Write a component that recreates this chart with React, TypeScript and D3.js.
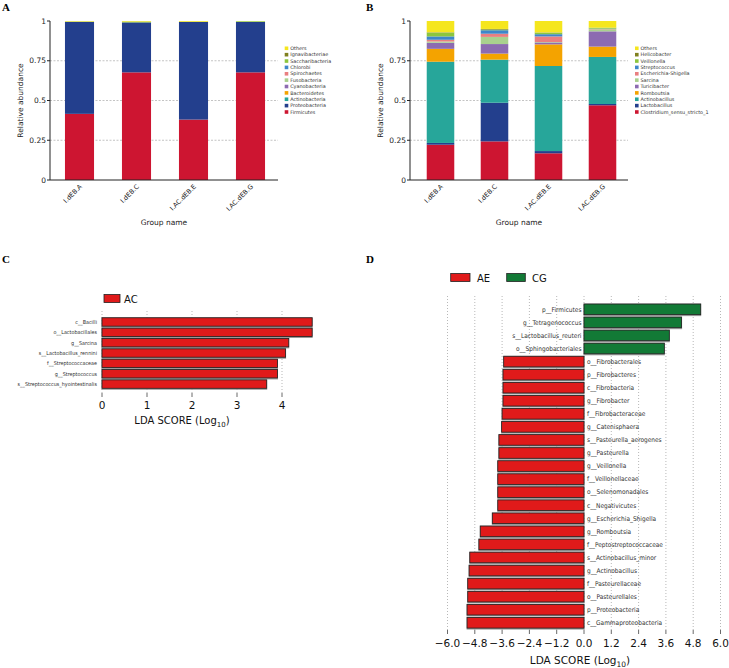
import React from "react";
import * as d3 from "d3";

// ---------- Panel A data ----------
const groups = ["I.dEB.A", "I.dEB.C", "I.AC.dEB.E", "I.AC.dEB.G"];
const phylaNames = ["Firmicutes", "Proteobacteria", "Actinobacteria", "Bacteroidetes", "Cyanobacteria", "Fusobacteria", "Spirochaetes", "Chlorobi", "Saccharibacteria", "Ignavibacteriae", "Others"];
const phylaA = [0.416, 0.578, 0.001, 0.0003, 0.0003, 0, 0, 0, 0.001, 0, 0.0034];
const phylaC = [0.677, 0.314, 0.0003, 0, 0, 0, 0, 0, 0.005, 0, 0.0037];
const phylaE = [0.38, 0.614, 0.0003, 0, 0, 0, 0, 0, 0.001, 0, 0.0047];
const phylaG = [0.677, 0.317, 0.001, 0, 0, 0, 0, 0, 0.004, 0, 0.001];

// ---------- Panel B data ----------
const genusNames = ["Clostridium_sensu_stricto_1", "Lactobacillus", "Actinobacillus", "Romboutsia", "Turicibacter", "Sarcina", "Escherichia-Shigella", "Streptococcus", "Veillonella", "Helicobacter", "Others"];
const genusA = [0.222, 0.011, 0.511, 0.081, 0.038, 0.008, 0.011, 0.021, 0.024, 0.002, 0.071];
const genusC = [0.243, 0.243, 0.271, 0.038, 0.06, 0.045, 0.02, 0.022, 0.004, 0.004, 0.05];
const genusE = [0.168, 0.014, 0.535, 0.136, 0.012, 0.003, 0.035, 0.014, 0.009, 0.002, 0.072];
const genusG = [0.47, 0.008, 0.296, 0.065, 0.096, 0.013, 0.002, 0.002, 0.005, 0.001, 0.042];

const stackColors = ["#CD1531", "#233F8D", "#27A69A", "#F4A300", "#8C6BB1", "#A9D18E", "#E97F80", "#3E86CA", "#8CC63E", "#80801F", "#F5E61E"];
const yTicks = [0, 0.25, 0.5, 0.75, 1];
const yTickLabels = ["0", "0.25", "0.5", "0.75", "1"];

// ---------- Panel C data ----------
const lefseCNames = ["c__Bacilli", "o__Lactobacillales", "g__Sarcina", "s__Lactobacillus_rennini", "f__Streptococcaceae", "g__Streptococcus", "s__Streptococcus_hyointestinalis"];
const lefseCValues = [4.67, 4.67, 4.15, 4.08, 3.9, 3.9, 3.66];
const lefseCTicks = [0, 1, 2, 3, 4];

// ---------- Panel D data ----------
const lefseDNames = ["p__Firmicutes", "g__Tetragenococcus", "s__Lactobacillus_reuteri", "o__Sphingobacteriales", "o__Fibrobacterales", "p__Fibrobacteres", "c__Fibrobacteria", "g__Fibrobacter", "f__Fibrobacteraceae", "g__Catenisphaera", "s__Pasteurella_aerogenes", "g__Pasteurella", "g__Veillonella", "f__Veillonellaceae", "o__Selenomonadales", "c__Negativicutes", "g__Escherichia_Shigella", "g__Romboutsia", "f__Peptostreptococcaceae", "s__Actinobacillus_minor", "g__Actinobacillus", "f__Pasteurellaceae", "o__Pasteurellales", "p__Proteobacteria", "c__Gammaproteobacteria"];
const lefseDValues = [5.13, 4.29, 3.75, 3.53, -3.53, -3.56, -3.56, -3.56, -3.6, -3.62, -3.74, -3.74, -3.79, -3.79, -3.79, -3.79, -4.03, -4.56, -4.62, -5.02, -5.05, -5.11, -5.11, -5.14, -5.14];
const lefseDTicks = [-6, -4.8, -3.6, -2.4, -1.2, 0, 1.2, 2.4, 3.6, 4.8, 6];

const AE_RED = "#E01A1A";
const CG_GREEN = "#127A36";
const SANS = "DejaVu Sans, Verdana, sans-serif";
const COND = "DejaVu Sans Condensed, DejaVu Sans, sans-serif";
const SERIF = "Liberation Serif, Times New Roman, serif";

function StackPanel({ names, rows, left, right, band0, band1, legendX }: any) {
  const top = 21, bottom = 180;
  const y = d3.scaleLinear().domain([0, 1]).range([bottom, top]);
  const x = d3.scaleBand().domain(groups).range([band0, band1]).padding(0);
  const bw = x.step() * 0.51;
  const data = groups.map((g, gi) => {
    const o: any = { group: g };
    names.forEach((n: string, i: number) => (o[n] = rows[gi][i]));
    return o;
  });
  const series = d3.stack().keys(names)(data);
  return (
    <g>
      {yTicks.slice(1, 4).map((t) => (
        <line key={t} x1={left} x2={right} y1={y(t)} y2={y(t)} stroke="#aaa" strokeWidth={0.7} strokeDasharray="2,1.5" />
      ))}
      {series.map((s: any, si: number) => (
        <g key={si} fill={stackColors[si]}>
          {s.map((d: any, di: number) => {
            const h = y(d[0]) - y(d[1]);
            if (h <= 0) return null;
            const cx = (x(groups[di]) as number) + x.step() / 2;
            return <rect key={di} x={cx - bw / 2} y={y(d[1])} width={bw} height={h} />;
          })}
        </g>
      ))}
      <line x1={left} x2={left} y1={top} y2={bottom} stroke="#222" strokeWidth={1} />
      <line x1={left} x2={right} y1={bottom} y2={bottom} stroke="#222" strokeWidth={1} />
      {yTicks.map((t, i) => (
        <g key={t}>
          <line x1={left - 3} x2={left} y1={y(t)} y2={y(t)} stroke="#222" strokeWidth={1} />
          <text x={left - 4} y={y(t)} dy="0.35em" textAnchor="end" fontSize={7.5} fontFamily={SANS} fill="#222">
            {yTickLabels[i]}
          </text>
        </g>
      ))}
      {groups.map((g) => {
        const cx = (x(g) as number) + x.step() / 2;
        return (
          <text key={g} transform={`translate(${cx + 3},${bottom + 7}) rotate(-45)`} textAnchor="end" fontSize={6.5} fontFamily={SANS} fill="#222">
            {g}
          </text>
        );
      })}
      <text x={(left + right) / 2} y={225} textAnchor="middle" fontSize={7.5} fontFamily={SANS} fill="#222">
        Group name
      </text>
      <text transform={`translate(${left - 27},${(top + bottom) / 2}) rotate(-90)`} textAnchor="middle" fontSize={7.5} fontFamily={SANS} fill="#222">
        Relative abundance
      </text>
      {names.slice().reverse().map((n: string, i: number) => {
        const ci = names.length - 1 - i;
        const cy = 48.3 + i * 6.37;
        return (
          <g key={n}>
            <rect x={legendX} y={cy - 1.8} width={3.6} height={3.6} fill={stackColors[ci]} />
            <text x={legendX + 5.5} y={cy} dy="0.35em" fontSize={4.9} fontFamily={SANS} fill="#333">
              {n}
            </text>
          </g>
        );
      })}
    </g>
  );
}

function PanelC() {
  const x = d3.scaleLinear().domain([0, 4]).range([102, 282]);
  const step = 10.35;
  const y = d3.scaleBand().domain(lefseCNames).range([316.8, 316.8 + step * lefseCNames.length]);
  const bh = 8.4;
  const gTop = 311, gBot = 393;
  return (
    <g>
      {lefseCTicks.map((t) => (
        <g key={t}>
          <line x1={x(t)} x2={x(t)} y1={gTop} y2={gBot} stroke="#999" strokeWidth={0.7} strokeDasharray="1,2" />
          <line x1={x(t)} x2={x(t)} y1={gBot} y2={gBot + 4} stroke="#444" strokeWidth={0.8} />
          <text x={x(t)} y={409} textAnchor="middle" fontSize={10.5} fontFamily={SANS} fill="#111">
            {t}
          </text>
        </g>
      ))}
      {lefseCNames.map((n, i) => {
        const cy = (y(n) as number) + y.step() / 2;
        const w = x(lefseCValues[i]) - x(0);
        return (
          <g key={n}>
            <rect x={x(0) - 0.5} y={cy - bh / 2 - 0.5} width={w + 1} height={bh + 2} fill="#999" />
            <rect x={x(0)} y={cy - bh / 2} width={w} height={bh} fill={AE_RED} stroke="#222" strokeWidth={0.8} />
            <text x={97} y={cy} dy="0.35em" textAnchor="end" fontSize={5.4} fontFamily={COND} fill="#333">
              {n}
            </text>
          </g>
        );
      })}
      <text x={182} y={424} textAnchor="middle" fontSize={10} fontFamily={SANS} fill="#111">
        LDA SCORE (Log<tspan fontSize={7} dy={2.5}>10</tspan><tspan dy={-2.5}>)</tspan>
      </text>
      <rect x={104} y={294.5} width={16} height={8} fill={AE_RED} stroke="#222" strokeWidth={0.8} />
      <text x={124} y={302.5} fontSize={10} fontFamily={SANS} fill="#111">
        AC
      </text>
    </g>
  );
}

function PanelD() {
  const x = d3.scaleLinear().domain([-6, 6]).range([447.5, 720.5]);
  const step = 13.06;
  const y = d3.scaleBand().domain(lefseDNames).range([302.8, 302.8 + step * lefseDNames.length]);
  const bh = 10.6;
  const gTop = 296, gBot = 630;
  const fmt = d3.format(".1f");
  return (
    <g>
      {lefseDTicks.map((t) => (
        <g key={t}>
          <line x1={x(t)} x2={x(t)} y1={gTop} y2={gBot} stroke="#999" strokeWidth={0.7} strokeDasharray="1,2" />
          <line x1={x(t)} x2={x(t)} y1={gBot} y2={gBot + 4} stroke="#444" strokeWidth={0.8} />
          <text x={x(t)} y={647} textAnchor="middle" fontSize={10.5} fontFamily={SANS} fill="#111">
            {fmt(t)}
          </text>
        </g>
      ))}
      {lefseDNames.map((n, i) => {
        const v = lefseDValues[i];
        const cy = (y(n) as number) + y.step() / 2;
        const x0 = Math.min(x(0), x(v));
        const w = Math.abs(x(v) - x(0));
        const pos = v > 0;
        return (
          <g key={n}>
            <rect x={x0 - 0.5} y={cy - bh / 2 - 0.5} width={w + 1} height={bh + 2} fill="#999" />
            <rect x={x0} y={cy - bh / 2} width={w} height={bh} fill={pos ? CG_GREEN : AE_RED} stroke="#222" strokeWidth={0.8} />
            <text x={pos ? x(0) - 2.5 : x(0) + 3} y={cy} dy="0.35em" textAnchor={pos ? "end" : "start"} fontSize={6.5} fontFamily={COND} fill="#333">
              {n}
            </text>
          </g>
        );
      })}
      <text x={580} y={664} textAnchor="middle" fontSize={10.5} fontFamily={SANS} fill="#111">
        LDA SCORE (Log<tspan fontSize={7.5} dy={2.5}>10</tspan><tspan dy={-2.5}>)</tspan>
      </text>
      <rect x={450.7} y={273.5} width={19.3} height={8} fill={AE_RED} stroke="#222" strokeWidth={0.8} />
      <text x={477} y={281.5} fontSize={10} fontFamily={SANS} fill="#111">
        AE
      </text>
      <rect x={506.7} y={273.5} width={18.6} height={8} fill={CG_GREEN} stroke="#222" strokeWidth={0.8} />
      <text x={532} y={281.5} fontSize={10} fontFamily={SANS} fill="#111">
        CG
      </text>
    </g>
  );
}

export default function App() {
  return (
    <svg width={729} height={668} style={{ position: "absolute", left: 0, top: 0, background: "#fff" }}>
      <rect width={729} height={668} fill="#fff" />
      <text x={2} y={11} fontSize={11} fontWeight="bold" fontFamily={SERIF}>A</text>
      <text x={366} y={11} fontSize={11} fontWeight="bold" fontFamily={SERIF}>B</text>
      <text x={2} y={263} fontSize={11} fontWeight="bold" fontFamily={SERIF}>C</text>
      <text x={366} y={263} fontSize={11} fontWeight="bold" fontFamily={SERIF}>D</text>
      <StackPanel names={phylaNames} rows={[phylaA, phylaC, phylaE, phylaG]} left={50} right={278} band0={51} band1={279} legendX={284.7} />
      <StackPanel names={genusNames} rows={[genusA, genusC, genusE, genusG]} left={410} right={628} band0={413.5} band1={629.5} legendX={635} />
      <PanelC />
      <PanelD />
    </svg>
  );
}
